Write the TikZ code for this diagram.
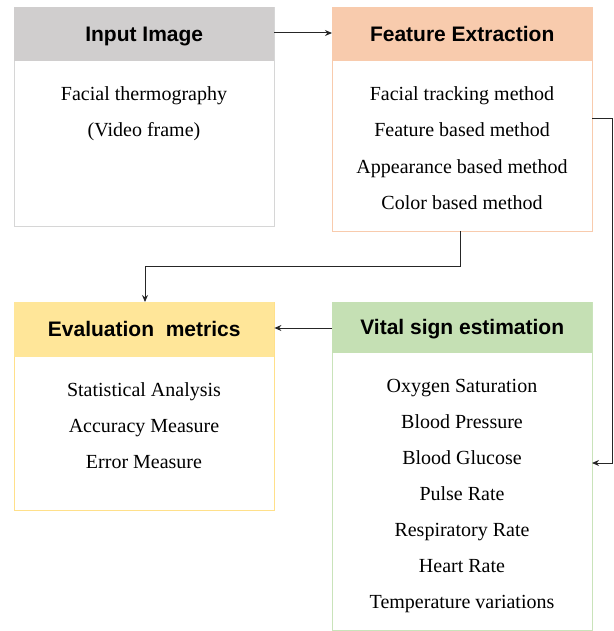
\documentclass[tikz,border=0pt]{standalone}
\usepackage{fontspec}
\setmainfont{Liberation Serif}
\newfontfamily\headfont{Liberation Sans}
\usetikzlibrary{arrows.meta,positioning}
\definecolor{grayhead}{HTML}{D0CECE}
\definecolor{grayline}{HTML}{D6D6D6}
\definecolor{orangehead}{HTML}{F8CBAD}
\definecolor{orangeline}{HTML}{F8CBAD}
\definecolor{yellowhead}{HTML}{FFE699}
\definecolor{yellowline}{HTML}{FFE08A}
\definecolor{greenhead}{HTML}{C5E0B4}
\definecolor{greenline}{HTML}{C9E3BA}
\definecolor{arrowcol}{HTML}{262626}
\tikzset{
  panel/.style={draw=#1, line width=1.2pt, fill=white, minimum width=260pt, inner sep=0pt, anchor=north west},
  headbar/.style={fill=#1, minimum width=260pt, inner sep=0pt, anchor=north west,
    font=\headfont\bfseries\fontsize{21}{24}\selectfont, text height=18pt, text depth=4pt},
  itemtext/.style={font=\fontsize{20}{22}\selectfont, inner sep=0pt,
    text height=16pt, text depth=4pt},
  flow/.style={draw=arrowcol, line width=1pt, -{Stealth[length=7pt,width=6pt]}},
}
\begin{document}
\begin{tikzpicture}[x=1pt,y=-1pt]
\useasboundingbox (0,0) rectangle (613,631);

% Input image
\node[panel=grayline, minimum height=219pt] (inbox) at (14,7) {};
\node[headbar=grayhead, minimum height=54pt] (inhead) at (14,7) {Input Image};
\node[itemtext] (in1) at (144,95) {Facial thermography};
\node[itemtext] (in2) at (144,131) {(Video frame)};

% Feature extraction
\node[panel=orangeline, minimum height=224pt] (febox) at (332,7) {};
\node[headbar=orangehead, minimum height=54pt] (fehead) at (332,7) {Feature Extraction};
\foreach \t [count=\i] in {Facial tracking method, Feature based method, Appearance based method, Color based method}
  \node[itemtext] (fe\i) at (462,59+36*\i) {\t};

% Evaluation metrics
\node[panel=yellowline, minimum height=208pt] (evbox) at (14,302) {};
\node[headbar=yellowhead, minimum height=55pt] (evhead) at (14,302) {Evaluation\ \ metrics};
\foreach \t [count=\i] in {Statistical Analysis, Accuracy Measure, Error Measure}
  \node[itemtext] (ev\i) at (144,354+36*\i) {\t};

% Vital sign estimation
\node[panel=greenline, minimum height=328pt] (vsbox) at (332,302) {};
\node[headbar=greenhead, minimum height=51pt] (vshead) at (332,302) {Vital sign estimation};
\foreach \t [count=\i] in {Oxygen Saturation, Blood Pressure, Blood Glucose, Pulse Rate, Respiratory Rate, Heart Rate, Temperature variations}
  \node[itemtext] (vs\i) at (462,350+36*\i) {\t};

% Connectors
\coordinate (fesouth) at (460,231);
\coordinate (evnorth) at (145,302);
\coordinate (feeast) at (592,119);
\coordinate (vseast) at (592,463);
\draw[flow] (inhead.east |- 0,33) -- (fehead.west |- 0,33);
\draw[flow] (fesouth) -- (460,266) -| (evnorth);
\draw[flow] (feeast) -- (612,119) |- (vseast);
\draw[flow] (vshead.west |- 0,328) -- (evhead.east |- 0,328);
\end{tikzpicture}
\end{document}
